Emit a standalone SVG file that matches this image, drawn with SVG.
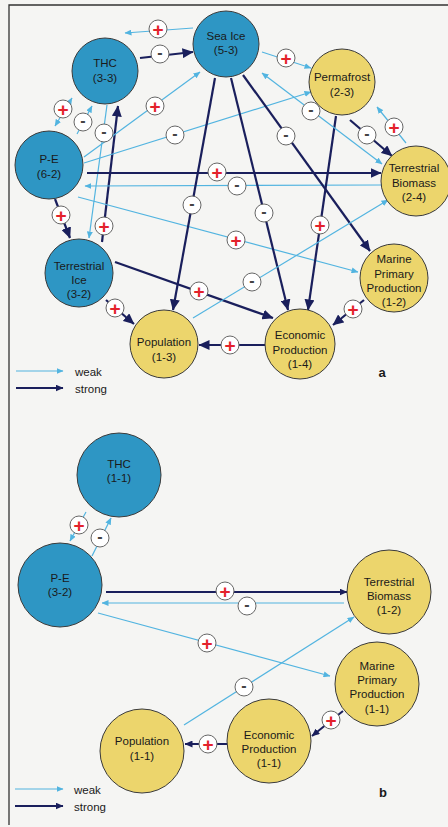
<svg xmlns="http://www.w3.org/2000/svg" width="448" height="827" viewBox="0 0 448 827">
<defs>
<marker id="as" viewBox="0 0 11 10" refX="10.5" refY="5" markerWidth="11" markerHeight="10" markerUnits="userSpaceOnUse" orient="auto-start-reverse"><path d="M0,0L11,5L0,10z" fill="#1a1f5c"/></marker>
<marker id="asb" viewBox="0 0 8 7" refX="7.5" refY="3.5" markerWidth="8" markerHeight="7" markerUnits="userSpaceOnUse" orient="auto-start-reverse"><path d="M0,0L8,3.5L0,7z" fill="#1a1f5c"/></marker>
<marker id="aw" viewBox="0 0 7 6" refX="6.5" refY="3" markerWidth="7" markerHeight="6" markerUnits="userSpaceOnUse" orient="auto-start-reverse"><path d="M0,0L7,3L0,6z" fill="#52b4e0"/></marker>
</defs>
<style>
.w{fill:none;stroke:#52b4e0;stroke-width:1.2;marker-end:url(#aw)}
.s{fill:none;stroke:#1a1f5c;stroke-width:2.2;marker-end:url(#as)}
.sb{fill:none;stroke:#1a1f5c;stroke-width:2;marker-end:url(#asb)}
.dbl{marker-start:url(#aw)}
.bc{fill:#fff;stroke:#666;stroke-width:1}
.p{font-family:"Liberation Sans",Arial,sans-serif;font-size:19px;font-weight:bold;fill:#e3222b;text-anchor:middle}
.m{font-family:"Liberation Sans",Arial,sans-serif;font-size:16px;font-weight:bold;fill:#444;text-anchor:middle}
.blue{fill:#2e96c4;stroke:#3a3a3a;stroke-width:1}
.yel{fill:#ecd56c;stroke:#3a3a3a;stroke-width:1}
.t{font-family:"Liberation Sans",Arial,sans-serif;font-size:11.5px;fill:#1a1a1a;text-anchor:middle}
.lg{font-family:"Liberation Sans",Arial,sans-serif;font-size:11.5px;fill:#1a1a1a}
.lab{font-family:"Liberation Sans",Arial,sans-serif;font-size:13px;font-weight:bold;fill:#1a1a1a;text-anchor:middle}
</style>
<rect width="448" height="827" fill="#f5f5f3"/>
<path d="M9,825V5H448" fill="none" stroke="#333" stroke-width="1.3"/>

<g id="connectors">
<!-- panel a -->
<path class="w" d="M193,28L125,33"/>
<path class="s" d="M140,58L193,52"/>
<path class="w dbl" d="M72,98L55,126"/>
<path class="w" d="M77,134L92,106"/>
<path class="w" d="M107,105L89,238"/>
<path class="s" d="M102,242L118,106"/>
<path class="s" d="M55,199L70,238"/>
<path class="w" d="M84,157L200,72"/>
<path class="w" d="M84,163L311,92"/>
<path class="s" d="M87,173L381,173"/>
<path class="w" d="M381,185L85,186"/>
<path class="w" d="M78,197L358,272"/>
<path class="s" d="M215,78L173,310"/>
<path class="s" d="M231,78L288,310"/>
<path class="s" d="M243,75L370,251"/>
<path class="s" d="M336,116L308,310"/>
<path class="w" d="M262,52L311,68"/>
<path class="w dbl" d="M262,73L382,164"/>
<path class="s" d="M350,120L392,156"/>
<path class="w" d="M406,143L377,107"/>
<path class="s" d="M115,262L273,318"/>
<path class="s" d="M106,300L134,324"/>
<path class="w" d="M193,318L388,200"/>
<path class="s" d="M265,345L199,345"/>
<path class="s" d="M364,300L333,325"/>
<!-- panel b -->
<path class="w" d="M86,512L70,541"/>
<path class="w" d="M92,556L111,518"/>
<path class="sb" d="M106,592L347,592"/>
<path class="w" d="M344,603L102,603"/>
<path class="w" d="M98,613L330,676"/>
<path class="w" d="M184,725L354,617"/>
<path class="sb" d="M343,711L312,736"/>
<path class="sb" d="M227,744L185,744"/>
<!-- legends -->
<path class="w" d="M16,371L63,371"/>
<path class="sb" d="M16,388L63,388"/>
<path class="w" d="M15,789L63,789"/>
<path class="sb" d="M15,806L63,806"/>

<!-- badges panel a -->
<g><circle class="bc" cx="158" cy="29" r="9"/><text class="p" x="158" y="35.7">+</text></g>
<g><circle class="bc" cx="160" cy="54" r="9"/><text class="m" x="160" y="58.3">-</text></g>
<g><circle class="bc" cx="63" cy="109" r="9"/><text class="p" x="63" y="115.7">+</text></g>
<g><circle class="bc" cx="83" cy="122" r="9"/><text class="m" x="83" y="126.3">-</text></g>
<g><circle class="bc" cx="104" cy="133" r="9"/><text class="m" x="104" y="137.3">-</text></g>
<g><circle class="bc" cx="104" cy="226" r="9"/><text class="p" x="104" y="232.7">+</text></g>
<g><circle class="bc" cx="61" cy="215" r="9"/><text class="p" x="61" y="221.7">+</text></g>
<g><circle class="bc" cx="155" cy="106" r="9"/><text class="p" x="155" y="112.7">+</text></g>
<g><circle class="bc" cx="175" cy="135" r="9"/><text class="m" x="175" y="139.3">-</text></g>
<g><circle class="bc" cx="217" cy="172" r="9"/><text class="p" x="217" y="178.7">+</text></g>
<g><circle class="bc" cx="237" cy="186" r="9"/><text class="m" x="237" y="190.3">-</text></g>
<g><circle class="bc" cx="236" cy="240" r="9"/><text class="p" x="236" y="246.7">+</text></g>
<g><circle class="bc" cx="192" cy="205" r="9"/><text class="m" x="192" y="209.3">-</text></g>
<g><circle class="bc" cx="264" cy="213" r="9"/><text class="m" x="264" y="217.3">-</text></g>
<g><circle class="bc" cx="286" cy="136" r="9"/><text class="m" x="286" y="140.3">-</text></g>
<g><circle class="bc" cx="320" cy="225" r="9"/><text class="p" x="320" y="231.7">+</text></g>
<g><circle class="bc" cx="286" cy="58" r="9"/><text class="p" x="286" y="64.7">+</text></g>
<g><circle class="bc" cx="311" cy="111" r="9"/><text class="m" x="311" y="115.3">-</text></g>
<g><circle class="bc" cx="367" cy="135" r="9"/><text class="m" x="367" y="139.3">-</text></g>
<g><circle class="bc" cx="394" cy="127" r="9"/><text class="p" x="394" y="133.7">+</text></g>
<g><circle class="bc" cx="199" cy="291" r="9"/><text class="p" x="199" y="297.7">+</text></g>
<g><circle class="bc" cx="115" cy="308" r="9"/><text class="p" x="115" y="314.7">+</text></g>
<g><circle class="bc" cx="252" cy="282" r="9"/><text class="m" x="252" y="286.3">-</text></g>
<g><circle class="bc" cx="230" cy="345" r="9"/><text class="p" x="230" y="351.7">+</text></g>
<g><circle class="bc" cx="353" cy="309" r="9"/><text class="p" x="353" y="315.7">+</text></g>
<!-- badges panel b -->
<g><circle class="bc" cx="79" cy="525" r="9"/><text class="p" x="79" y="531.7">+</text></g>
<g><circle class="bc" cx="100" cy="538" r="9"/><text class="m" x="100" y="542.3">-</text></g>
<g><circle class="bc" cx="225" cy="591" r="9"/><text class="p" x="225" y="597.7">+</text></g>
<g><circle class="bc" cx="247" cy="606" r="9"/><text class="m" x="247" y="610.3">-</text></g>
<g><circle class="bc" cx="207" cy="643" r="9"/><text class="p" x="207" y="649.7">+</text></g>
<g><circle class="bc" cx="244" cy="687" r="9"/><text class="m" x="244" y="691.3">-</text></g>
<g><circle class="bc" cx="331" cy="720" r="9"/><text class="p" x="331" y="726.7">+</text></g>
<g><circle class="bc" cx="208" cy="744" r="9"/><text class="p" x="208" y="750.7">+</text></g>
</g>

<!-- panel a nodes -->
<g id="a-thc"><circle class="blue" cx="105" cy="71" r="33"/><text class="t" x="105" y="67">THC</text><text class="t" x="105" y="82">(3-3)</text></g>
<g id="a-seaice"><circle class="blue" cx="226" cy="44" r="33"/><text class="t" x="226" y="40">Sea Ice</text><text class="t" x="226" y="54">(5-3)</text></g>
<g id="a-permafrost"><circle class="yel" cx="342" cy="82" r="33"/><text class="t" x="342" y="81">Permafrost</text><text class="t" x="342" y="96">(2-3)</text></g>
<g id="a-pe"><circle class="blue" cx="49" cy="165" r="34"/><text class="t" x="49" y="163">P-E</text><text class="t" x="49" y="178">(6-2)</text></g>
<g id="a-tbiomass"><circle class="yel" cx="416" cy="181" r="35"/><text class="t" x="414" y="172">Terrestrial</text><text class="t" x="414" y="187">Biomass</text><text class="t" x="414" y="201">(2-4)</text></g>
<g id="a-tice"><circle class="blue" cx="79" cy="273" r="34"/><text class="t" x="79" y="270">Terrestrial</text><text class="t" x="79" y="284">Ice</text><text class="t" x="79" y="298">(3-2)</text></g>
<g id="a-population"><circle class="yel" cx="164" cy="344" r="34"/><text class="t" x="164" y="346">Population</text><text class="t" x="164" y="361">(1-3)</text></g>
<g id="a-econ"><circle class="yel" cx="300" cy="344" r="35"/><text class="t" x="300" y="339">Economic</text><text class="t" x="300" y="354">Production</text><text class="t" x="300" y="368">(1-4)</text></g>
<g id="a-marine"><circle class="yel" cx="394" cy="278" r="34"/><text class="t" x="394" y="263">Marine</text><text class="t" x="394" y="278">Primary</text><text class="t" x="394" y="292">Production</text><text class="t" x="394" y="306">(1-2)</text></g>
<g id="a-legend"><text class="lg" x="75" y="376">weak</text><text class="lg" x="75" y="393">strong</text><text class="lab" x="382" y="377">a</text></g>

<!-- panel b nodes -->
<g id="b-thc"><circle class="blue" cx="119" cy="475" r="42"/><text class="t" x="119" y="468">THC</text><text class="t" x="119" y="482">(1-1)</text></g>
<g id="b-pe"><circle class="blue" cx="60" cy="585" r="42"/><text class="t" x="60" y="582">P-E</text><text class="t" x="60" y="596">(3-2)</text></g>
<g id="b-tbiomass"><circle class="yel" cx="389" cy="592" r="42"/><text class="t" x="389" y="586">Terrestrial</text><text class="t" x="389" y="600">Biomass</text><text class="t" x="389" y="614">(1-2)</text></g>
<g id="b-marine"><circle class="yel" cx="377" cy="684" r="42"/><text class="t" x="377" y="670">Marine</text><text class="t" x="377" y="684">Primary</text><text class="t" x="377" y="698">Production</text><text class="t" x="377" y="713">(1-1)</text></g>
<g id="b-econ"><circle class="yel" cx="269" cy="741" r="42"/><text class="t" x="269" y="739">Economic</text><text class="t" x="269" y="753">Production</text><text class="t" x="269" y="767">(1-1)</text></g>
<g id="b-population"><circle class="yel" cx="142" cy="751" r="42"/><text class="t" x="142" y="745">Population</text><text class="t" x="142" y="760">(1-1)</text></g>
<g id="b-legend"><text class="lg" x="74" y="794">weak</text><text class="lg" x="74" y="811">strong</text><text class="lab" x="383" y="797">b</text></g>
</svg>
